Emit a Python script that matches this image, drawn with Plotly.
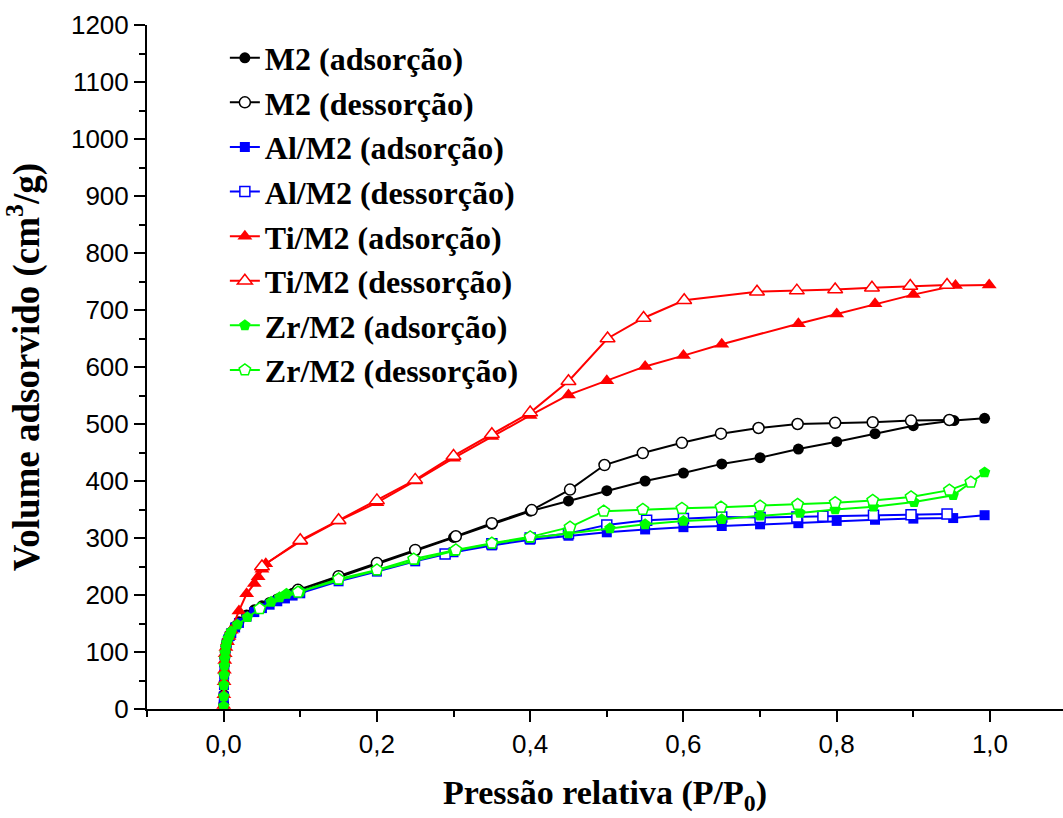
import plotly.graph_objects as go

# ---- N2 isotherm data (P/P0, volume adsorbed cm3/g) ----
m2_ads_x = [0.0001, 0.0002, 0.0004, 0.0007, 0.001, 0.0015, 0.002, 0.003, 0.004, 0.006, 0.008, 0.01,
            0.015, 0.02, 0.03, 0.04, 0.05, 0.06, 0.07, 0.08, 0.09, 0.10, 0.15, 0.20, 0.25, 0.30,
            0.35, 0.40, 0.45, 0.50, 0.55, 0.60, 0.65, 0.70, 0.75, 0.80, 0.85, 0.90, 0.953, 0.993]
m2_ads_y = [8, 25, 45, 62, 78, 90, 100, 110, 117, 124, 130, 135,
            145, 153, 165, 174, 181, 187, 193, 198, 203, 207, 231, 254, 277, 301,
            324, 347, 365, 383, 400, 414, 430, 441, 456, 469, 483, 497, 506, 510]
m2_des_x = [0.947, 0.897, 0.847, 0.798, 0.749, 0.698, 0.649, 0.598, 0.547, 0.497, 0.452, 0.402,
            0.35, 0.303, 0.25, 0.20, 0.15, 0.097]
m2_des_y = [507, 506, 503, 502, 500, 493, 483, 467, 449, 428, 385, 349,
            326, 303, 279, 256, 233, 209]

al_ads_x = [0.0001, 0.0002, 0.0004, 0.0007, 0.001, 0.0015, 0.002, 0.003, 0.004, 0.006, 0.008, 0.01,
            0.015, 0.02, 0.03, 0.04, 0.05, 0.06, 0.07, 0.08, 0.09, 0.10, 0.15, 0.20, 0.25, 0.30,
            0.35, 0.40, 0.45, 0.50, 0.55, 0.60, 0.65, 0.70, 0.75, 0.80, 0.85, 0.90, 0.952, 0.993]
al_ads_y = [6, 22, 42, 60, 75, 88, 98, 108, 115, 122, 128, 133,
            143, 151, 162, 170, 177, 183, 189, 194, 199, 203, 224, 241, 259, 275,
            287, 297, 304, 310, 315, 319, 321, 324, 326, 330, 332, 334, 335, 340]
al_des_x = [0.944, 0.897, 0.848, 0.782, 0.748, 0.70, 0.65, 0.60, 0.552, 0.50, 0.45, 0.40, 0.35, 0.289]
al_des_y = [342, 341, 340, 338, 337, 336, 337, 334, 331, 323, 308, 300, 290, 272]

ti_ads_x = [0.0001, 0.0003, 0.0006, 0.001, 0.0015, 0.002, 0.003, 0.005, 0.007, 0.01, 0.02, 0.03,
            0.04, 0.045, 0.05, 0.055, 0.10, 0.15, 0.20, 0.25, 0.30, 0.35, 0.40, 0.45, 0.50, 0.55,
            0.60, 0.65, 0.75, 0.80, 0.85, 0.90, 0.955, 0.999]
ti_ads_y = [6, 25, 48, 68, 85, 97, 108, 118, 127, 138, 172, 202,
            220, 232, 245, 255, 294, 330, 362, 400, 440, 478, 515, 551, 576, 601,
            620, 640, 676, 693, 711, 727, 743, 744]
ti_des_x = [0.944, 0.896, 0.846, 0.798, 0.748, 0.696, 0.601, 0.548, 0.501, 0.450, 0.40, 0.35,
            0.30, 0.25, 0.20, 0.15, 0.10, 0.05]
ti_des_y = [744, 742, 739, 736, 734, 732, 717, 686, 650, 575, 520, 482,
            444, 402, 366, 331, 296, 250]

zr_ads_x = [0.0001, 0.0002, 0.0004, 0.0007, 0.001, 0.0015, 0.002, 0.003, 0.004, 0.006, 0.008, 0.01,
            0.018, 0.031, 0.047, 0.062, 0.073, 0.082, 0.10, 0.15, 0.20, 0.25, 0.30, 0.35, 0.40,
            0.45, 0.504, 0.55, 0.60, 0.65, 0.70, 0.752, 0.798, 0.848, 0.901, 0.952, 0.993]
zr_ads_y = [5, 22, 42, 60, 76, 89, 99, 109, 116, 124, 130, 136,
            148, 161, 175, 188, 196, 202, 206, 226, 243, 261, 277, 290, 300,
            308, 317, 324, 330, 333, 339, 344, 350, 355, 363, 375, 415]
zr_des_x = [0.975, 0.947, 0.897, 0.847, 0.798, 0.749, 0.70, 0.649, 0.598, 0.547, 0.496, 0.452,
            0.40, 0.35, 0.303, 0.248, 0.20, 0.15, 0.097, 0.047]
zr_des_y = [398, 384, 372, 366, 362, 359, 356, 354, 352, 350, 347, 319,
            302, 291, 279, 263, 244, 228, 205, 176]

x_title = "Pressão relativa (P/P<sub>0</sub>)"
y_title = "Volume adsorvido (cm<sup>3</sup>/g)"

BLACK, BLUE, RED, GREEN = "#000000", "#0000FF", "#FF0000", "#00FF00"

series = [
    ("M2 (adsorção)", m2_ads_x, m2_ads_y, BLACK, "circle", True, 11),
    ("M2 (dessorção)", m2_des_x, m2_des_y, BLACK, "circle", False, 11),
    ("Al/M2 (adsorção)", al_ads_x, al_ads_y, BLUE, "square", True, 10),
    ("Al/M2 (dessorção)", al_des_x, al_des_y, BLUE, "square", False, 10),
    ("Ti/M2 (adsorção)", ti_ads_x, ti_ads_y, RED, "triangle-up", True, 13),
    ("Ti/M2 (dessorção)", ti_des_x, ti_des_y, RED, "triangle-up", False, 13),
    ("Zr/M2 (adsorção)", zr_ads_x, zr_ads_y, GREEN, "pentagon", True, 12),
    ("Zr/M2 (dessorção)", zr_des_x, zr_des_y, GREEN, "pentagon", False, 12),
]

fig = go.Figure()
for name, xs, ys, color, sym, filled, size in series:
    marker = dict(symbol=sym, size=size,
                  color=color if filled else "white",
                  line=dict(color=color, width=0 if filled else 1.5))
    fig.add_trace(go.Scatter(
        x=xs, y=ys, mode="lines+markers", name=name,
        line=dict(color=color, width=2), marker=marker,
    ))

tick_font = dict(family="Liberation Sans, Arial, sans-serif", size=26, color="black")
serif = "Liberation Serif, Times New Roman, serif"

fig.update_layout(
    width=1063, height=818,
    margin=dict(l=147, r=0, t=25, b=109),
    paper_bgcolor="white", plot_bgcolor="white",
    separators=",.",
    showlegend=True,
    legend=dict(
        x=0.085, y=0.992, xanchor="left", yanchor="top",
        bgcolor="rgba(0,0,0,0)", borderwidth=0,
        font=dict(family=serif, size=32, color="black", weight="bold"),
        traceorder="normal",
    ),
    xaxis=dict(
        range=[-0.1, 1.0953], tick0=0, dtick=0.2, tickformat=".1f",
        showline=True, linecolor="black", linewidth=2,
        ticks="outside", ticklen=11, tickwidth=2, tickcolor="black",
        minor=dict(dtick=0.1, tick0=0, ticks="outside", ticklen=6, tickwidth=2, tickcolor="black"),
        showgrid=False, zeroline=False,
        tickfont=tick_font,
        title=dict(text=x_title, standoff=22,
                   font=dict(family=serif, size=34, color="black", weight="bold")),
    ),
    yaxis=dict(
        range=[0, 1200], tick0=0, dtick=100,
        showline=True, linecolor="black", linewidth=2,
        ticks="outside", ticklen=11, tickwidth=2, tickcolor="black",
        minor=dict(dtick=50, tick0=0, ticks="outside", ticklen=6, tickwidth=2, tickcolor="black"),
        showgrid=False, zeroline=False,
        tickfont=tick_font,
        title=dict(text=y_title, standoff=20,
                   font=dict(family=serif, size=37, color="black", weight="bold")),
    ),
)

fig.write_html("out.html")
